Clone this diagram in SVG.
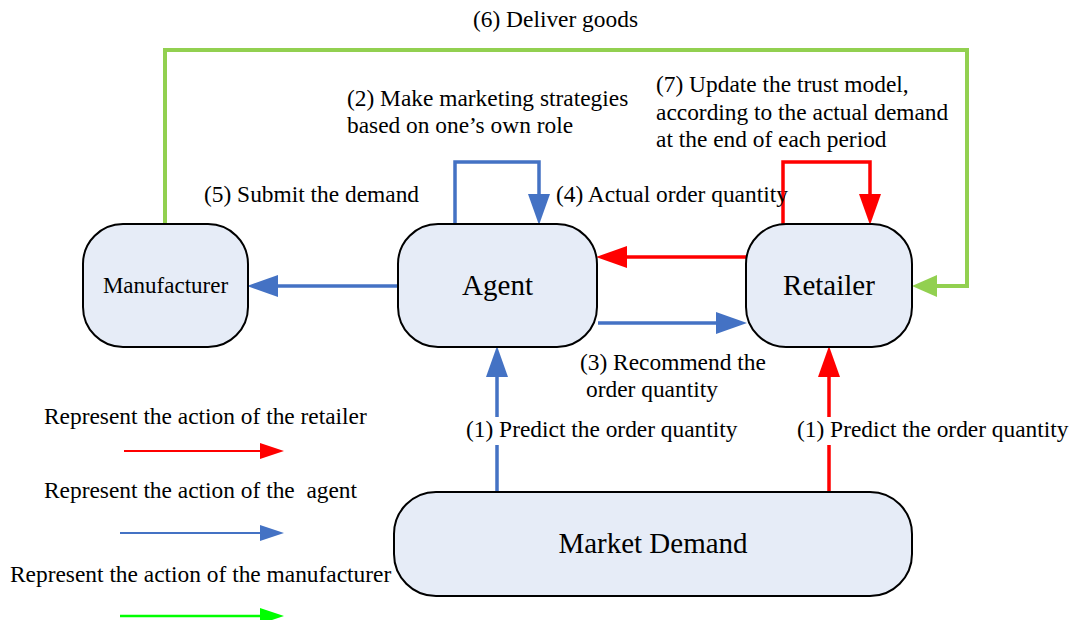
<svg xmlns="http://www.w3.org/2000/svg" width="1070" height="620" viewBox="0 0 1070 620">
  <style>
    .node { fill: #E6ECF7; stroke: #000; stroke-width: 2; }
    .big { font-family: "Liberation Serif", "Times New Roman", serif; font-size: 29px; fill: #000; text-anchor: middle; }
    .mid { font-family: "Liberation Serif", "Times New Roman", serif; font-size: 23px; fill: #000; text-anchor: middle; }
    .lbl { font-family: "Liberation Serif", "Times New Roman", serif; font-size: 23.4px; fill: #000; white-space: pre; }
    .blue { fill: none; stroke: #4472C4; stroke-width: 3.5; }
    .red { fill: none; stroke: #FF0000; stroke-width: 3.5; }
    .green { fill: none; stroke: #92D050; stroke-width: 4; }
    .lred { fill: none; stroke: #FF0000; stroke-width: 2; }
    .lblue { fill: none; stroke: #4472C4; stroke-width: 2; }
    .lgreen { fill: none; stroke: #00FF00; stroke-width: 2.5; }
  </style>
  <defs>
    <marker id="ab" markerUnits="userSpaceOnUse" markerWidth="32" markerHeight="24" refX="20" refY="11" orient="auto">
      <path d="M0,0 L31,11 L0,22 z" fill="#4472C4"/>
    </marker>
    <marker id="ar" markerUnits="userSpaceOnUse" markerWidth="32" markerHeight="24" refX="20" refY="11" orient="auto">
      <path d="M0,0 L31,11 L0,22 z" fill="#FF0000"/>
    </marker>
    <marker id="ag" markerUnits="userSpaceOnUse" markerWidth="32" markerHeight="24" refX="15" refY="11" orient="auto">
      <path d="M0,0 L25,11 L0,22 z" fill="#92D050"/>
    </marker>
    <marker id="lr" markerUnits="userSpaceOnUse" markerWidth="26" markerHeight="18" refX="16" refY="8" orient="auto">
      <path d="M0,0 L24,8 L0,16 z" fill="#FF0000"/>
    </marker>
    <marker id="lb" markerUnits="userSpaceOnUse" markerWidth="26" markerHeight="18" refX="16" refY="8" orient="auto">
      <path d="M0,0 L24,8 L0,16 z" fill="#4472C4"/>
    </marker>
    <marker id="lg" markerUnits="userSpaceOnUse" markerWidth="26" markerHeight="18" refX="16" refY="8" orient="auto">
      <path d="M0,0 L24,8 L0,16 z" fill="#00FF00"/>
    </marker>
  </defs>
  <rect width="1070" height="620" fill="#fff"/>

  <g id="connectors">
    <path class="green" d="M165,224 V50 H967 V286 H922" marker-end="url(#ag)"/>
    <path class="blue" d="M455,224 V162 H539 V214" marker-end="url(#ab)"/>
    <path class="red" d="M783,224 V162 H870 V214" marker-end="url(#ar)"/>
    <path class="blue" d="M398,286 H258" marker-end="url(#ab)"/>
    <path class="red" d="M746,257 H607" marker-end="url(#ar)"/>
    <path class="blue" d="M598,323 H736" marker-end="url(#ab)"/>
    <path class="blue" d="M497,492 V445 M497,417 V357" marker-end="url(#ab)"/>
    <path class="red" d="M829,492 V445 M829,417 V357" marker-end="url(#ar)"/>
  </g>

  <g id="manufacturer">
    <rect class="node" x="83" y="224" width="165" height="123" rx="40" ry="40"/>
    <text class="mid" x="165.5" y="293">Manufacturer</text>
  </g>
  <g id="agent">
    <rect class="node" x="398" y="224" width="199" height="123" rx="40" ry="40"/>
    <text class="big" x="497.5" y="295">Agent</text>
  </g>
  <g id="retailer">
    <rect class="node" x="746" y="224" width="166" height="123" rx="40" ry="40"/>
    <text class="big" x="829" y="295">Retailer</text>
  </g>
  <g id="market-demand">
    <rect class="node" x="394" y="492" width="518" height="104" rx="42" ry="42"/>
    <text class="big" x="653" y="553">Market Demand</text>
  </g>

  <g id="labels">
    <text class="lbl" x="473" y="27">(6) Deliver goods</text>
    <text class="lbl" x="347" y="106">(2) Make marketing strategies</text>
    <text class="lbl" x="347" y="133">based on one’s own role</text>
    <text class="lbl" x="656" y="92">(7) Update the trust model,</text>
    <text class="lbl" x="656" y="120">according to the actual demand</text>
    <text class="lbl" x="656" y="147">at the end of each period</text>
    <text class="lbl" x="204" y="202">(5) Submit the demand</text>
    <text class="lbl" x="556" y="202">(4) Actual order quantity</text>
    <text class="lbl" x="580" y="370">(3) Recommend the</text>
    <text class="lbl" x="586" y="397">order quantity</text>
    <text class="lbl" x="466" y="437">(1) Predict the order quantity</text>
    <text class="lbl" x="797" y="437">(1) Predict the order quantity</text>
  </g>

  <g id="legend">
    <text class="lbl" x="44" y="424">Represent the action of the retailer</text>
    <path class="lred" d="M124,451 H276" marker-end="url(#lr)"/>
    <text class="lbl" x="44" y="498">Represent the action of the  agent</text>
    <path class="lblue" d="M120,533 H276" marker-end="url(#lb)"/>
    <text class="lbl" x="10" y="582">Represent the action of the manufacturer</text>
    <path class="lgreen" d="M120,616 H276" marker-end="url(#lg)"/>
  </g>
</svg>
